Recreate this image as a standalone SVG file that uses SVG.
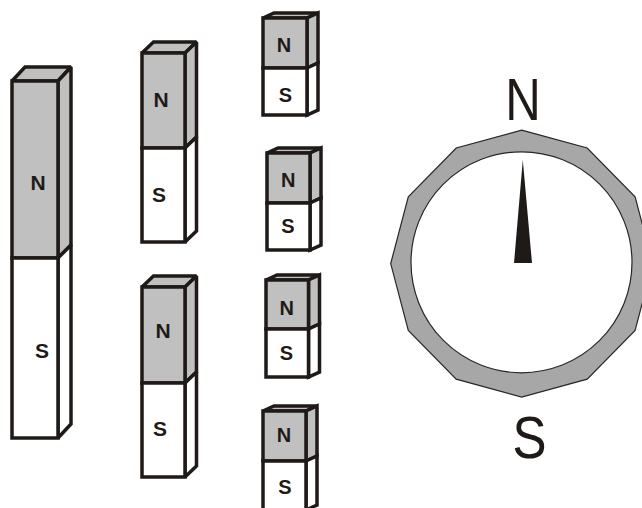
<svg xmlns="http://www.w3.org/2000/svg" width="642" height="508" viewBox="0 0 642 508">
  <style>
    .edge { stroke: #1f1a17; stroke-width: 3.5; stroke-linejoin: miter; stroke-miterlimit: 2; }
    .n { fill: #c0c0c0; }
    .s { fill: #ffffff; }
    .lbl { font-family: "Liberation Sans", Arial, sans-serif; font-weight: bold; fill: #1f1a17; text-anchor: middle; }
    .big { font-size: 21px; }
    .small { font-size: 20px; }
    .pole { font-family: "Liberation Sans", Arial, sans-serif; font-size: 60px; fill: #1f1a17; text-anchor: middle; }
  </style>
  <rect width="642" height="508" fill="#ffffff"/>

  <!-- Long bar magnet: front 12..58, top 81, split 258, bottom 438, depth 13/14 -->
  <g id="magnet-long">
    <polygon class="n edge" points="12,81 25,67 71,67 58,81"/>
    <polygon class="n edge" points="58,81 71,67 71,245 58,258"/>
    <polygon class="s edge" points="58,258 71,245 71,424 58,438"/>
    <rect class="n edge" x="12" y="81" width="46" height="177"/>
    <rect class="s edge" x="12" y="258" width="46" height="180"/>
    <text class="lbl big" x="38" y="190">N</text>
    <text class="lbl big" x="42" y="358">S</text>
  </g>

  <!-- Half-length magnets -->
  <g id="magnet-mid-top">
    <polygon class="n edge" points="142,53 153.5,42 196.5,42 185,53"/>
    <polygon class="n edge" points="185,53 196.5,42 196.5,137 185,148"/>
    <polygon class="s edge" points="185,148 196.5,137 196.5,231 185,242"/>
    <rect class="n edge" x="142" y="53" width="43" height="95"/>
    <rect class="s edge" x="142" y="148" width="43" height="94"/>
    <text class="lbl big" x="161" y="107">N</text>
    <text class="lbl big" x="159" y="202">S</text>
  </g>

  <g id="magnet-mid-bottom">
    <polygon class="n edge" points="142,287 153.5,276 196.5,276 185,287"/>
    <polygon class="n edge" points="185,287 196.5,276 196.5,372 185,383"/>
    <polygon class="s edge" points="185,383 196.5,372 196.5,466 185,477"/>
    <rect class="n edge" x="142" y="287" width="43" height="96"/>
    <rect class="s edge" x="142" y="383" width="43" height="94"/>
    <text class="lbl big" x="163" y="338">N</text>
    <text class="lbl big" x="160" y="436">S</text>
  </g>

  <!-- Short magnets -->
  <g id="magnet-short-1">
    <polygon class="n edge" points="263,18 274,13 318,13 307,18"/>
    <polygon class="n edge" points="307,18 318,13 318,63 307,68"/>
    <polygon class="s edge" points="307,68 318,63 318,110 307,115"/>
    <rect class="n edge" x="263" y="18" width="44" height="50"/>
    <rect class="s edge" x="263" y="68" width="44" height="47"/>
    <text class="lbl small" x="284" y="52">N</text>
    <text class="lbl small" x="285.5" y="101.5">S</text>
  </g>

  <g id="magnet-short-2">
    <polygon class="n edge" points="267,153 278,148 321,148 310,153"/>
    <polygon class="n edge" points="310,153 321,148 321,198 310,203"/>
    <polygon class="s edge" points="310,203 321,198 321,245 310,250"/>
    <rect class="n edge" x="267" y="153" width="43" height="50"/>
    <rect class="s edge" x="267" y="203" width="43" height="47"/>
    <text class="lbl small" x="288.3" y="187">N</text>
    <text class="lbl small" x="288" y="233">S</text>
  </g>

  <g id="magnet-short-3">
    <polygon class="n edge" points="266,280 277,275 319.5,275 308.5,280"/>
    <polygon class="n edge" points="308.5,280 319.5,275 319.5,324 308.5,329"/>
    <polygon class="s edge" points="308.5,329 319.5,324 319.5,372 308.5,377"/>
    <rect class="n edge" x="266" y="280" width="42.5" height="49"/>
    <rect class="s edge" x="266" y="329" width="42.5" height="48"/>
    <text class="lbl small" x="286.7" y="315">N</text>
    <text class="lbl small" x="286.5" y="360">S</text>
  </g>

  <g id="magnet-short-4">
    <polygon class="n edge" points="263,411 274,406 317,406 306,411"/>
    <polygon class="n edge" points="306,411 317,406 317,456 306,461"/>
    <polygon class="s edge" points="306,461 317,456 317,505 306,510"/>
    <rect class="n edge" x="263" y="411" width="43" height="50"/>
    <rect class="s edge" x="263" y="461" width="43" height="49"/>
    <text class="lbl small" x="284" y="442">N</text>
    <text class="lbl small" x="285" y="494">S</text>
  </g>

  <!-- Compass: twelve-sided bezel, dial and needle -->
  <g id="compass">
    <polygon fill="#a7a7a7" stroke="#2a2624" stroke-width="1.2"
      points="521.7,130.1 587.2,148 635.1,196.85 652.7,263.6 635.1,330.35 587.2,379.2 521.7,397.1 456.2,379.2 408.3,330.35 390.7,263.6 408.3,196.85 456.2,148"/>
    <circle cx="521.5" cy="262.3" r="110.5" fill="#ffffff" stroke="#2a2624" stroke-width="1.2"/>
    <polygon fill="#1f1a17" points="522.8,160 514,263 532,263"/>
    <text class="pole" transform="translate(523,120) scale(0.82,1)">N</text>
    <text class="pole" transform="translate(529.5,457.5) scale(0.85,1)">S</text>
  </g>
</svg>
